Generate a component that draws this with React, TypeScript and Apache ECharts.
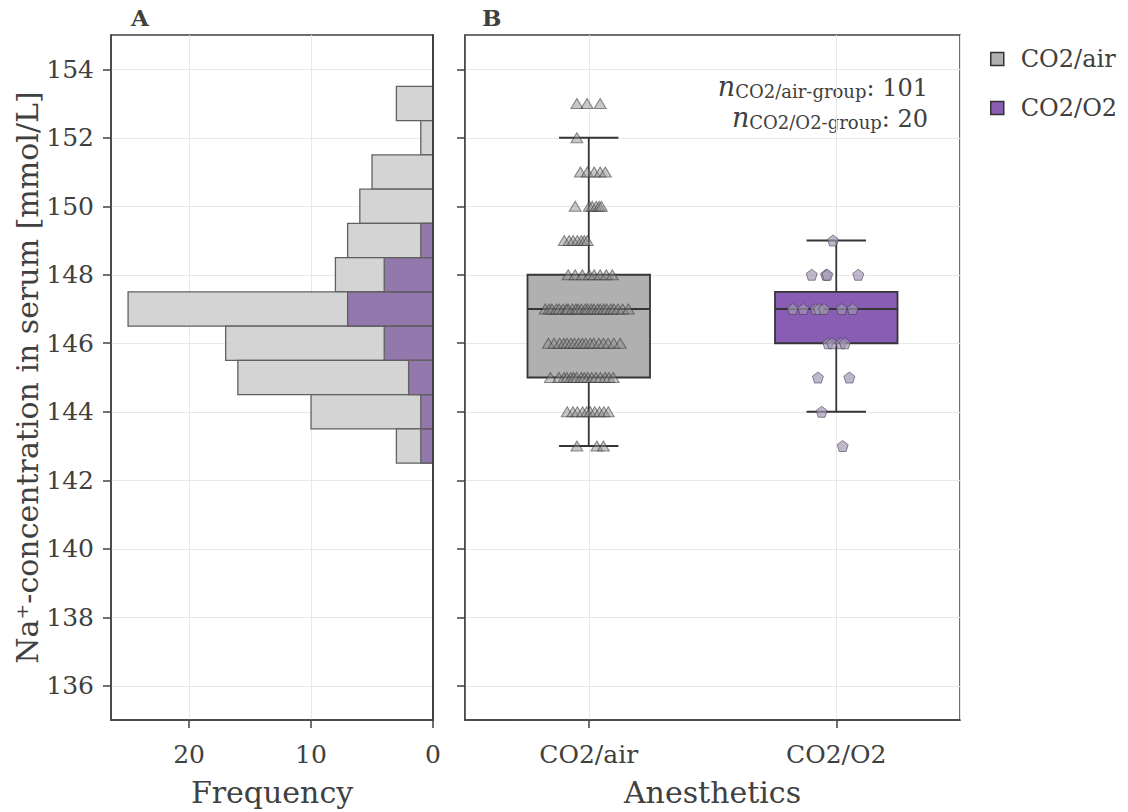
import React, { useEffect, useRef } from 'react';
import * as echarts from 'echarts';

// ---- data ----
const naLevels = [153, 152, 151, 150, 149, 148, 147, 146, 145, 144, 143];
const airCounts = [3, 1, 5, 6, 7, 8, 25, 17, 16, 10, 3];
const o2Counts = [0, 0, 0, 0, 1, 4, 7, 4, 2, 1, 1];

const categories = ['CO2/air', 'CO2/O2'];
// [whisker low, Q1, median, Q3, whisker high]
const airBox = [143, 145, 147, 148, 152];
const o2Box = [144, 146, 147, 147.5, 149];

// horizontal jitter (fraction of category band) for each point, per level in naLevels
const airJitter: number[][] = [
  [-0.048, -0.007, 0.046],
  [-0.048],
  [-0.034, -0.006, 0.022, 0.046, 0.067],
  [-0.055, 0.002, 0.014, 0.03, 0.042, 0.051],
  [-0.099, -0.079, -0.063, -0.046, -0.03, -0.018, -0.006],
  [-0.083, -0.055, -0.026, 0.002, 0.022, 0.046, 0.071, 0.095],
  [-0.176, -0.16, -0.149, -0.131, -0.12, -0.104, -0.09, -0.083, -0.066, -0.052, -0.043, -0.03, -0.014, -0.004, 0.01, 0.021, 0.036, 0.047, 0.061, 0.072, 0.089, 0.101, 0.118, 0.137, 0.16],
  [-0.163, -0.14, -0.118, -0.101, -0.088, -0.072, -0.058, -0.041, -0.026, -0.012, 0.006, 0.02, 0.041, 0.059, 0.078, 0.101, 0.127],
  [-0.155, -0.121, -0.1, -0.088, -0.072, -0.061, -0.049, -0.03, -0.018, -0.004, 0.012, 0.029, 0.047, 0.066, 0.081, 0.099],
  [-0.087, -0.064, -0.046, -0.025, -0.008, 0.006, 0.024, 0.043, 0.061, 0.079],
  [-0.048, 0.033, 0.059],
];
const o2Jitter: number[][] = [
  [],
  [],
  [],
  [],
  [-0.013],
  [-0.099, -0.041, -0.036, 0.089],
  [-0.176, -0.133, -0.083, -0.07, -0.049, 0.022, 0.066],
  [-0.033, -0.017, 0.019, 0.035],
  [-0.074, 0.053],
  [-0.059],
  [0.026],
];

const yTickValues = [136, 138, 140, 142, 144, 146, 148, 150, 152, 154];
const xTickValues = [0, 10, 20];

// ---- styles ----
const FONT = "'DejaVu Serif', serif";
const TXT = '#404040';
const AXIS = '#404040';
const GRIDLINE = '#e8e8e8';
const airHistFill = 'rgba(205,205,205,0.85)';
const o2HistFill = 'rgba(125,90,160,0.75)';
const airBoxFill = '#b0b0b0';
const o2BoxFill = '#8a5db5';
const pentagon = 'path://M0,-1 L0.951,-0.309 L0.588,0.809 L-0.588,0.809 L-0.951,-0.309 Z';

function histData(counts: number[]) {
  return naLevels.map((v, i) => [v - 0.5, v + 0.5, counts[i]]);
}

function stripData(catIdx: number, jitter: number[][]) {
  const out: number[][] = [];
  naLevels.forEach((v, i) => {
    jitter[i].forEach((j) => out.push([catIdx + j, v]));
  });
  return out;
}

function histRender(fill: string) {
  return (params: any, api: any) => {
    const lo = api.value(0);
    const hi = api.value(1);
    const cnt = api.value(2);
    if (!cnt) return null;
    const p0 = api.coord([0, hi]);
    const p1 = api.coord([cnt, lo]);
    return {
      type: 'rect',
      shape: {
        x: Math.min(p0[0], p1[0]),
        y: p0[1],
        width: Math.abs(p1[0] - p0[0]),
        height: p1[1] - p0[1],
      },
      style: { fill, stroke: '#606060', lineWidth: 1.3 },
    };
  };
}

function boxRender(fill: string) {
  return (params: any, api: any) => {
    const idx = api.value(0);
    const lo = api.coord([idx, api.value(1)]);
    const q1 = api.coord([idx, api.value(2)]);
    const med = api.coord([idx, api.value(3)]);
    const q3 = api.coord([idx, api.value(4)]);
    const hi = api.coord([idx, api.value(5)]);
    const band = api.size([1, 0])[0];
    const bw = band * 0.495;
    const cw = band * 0.24;
    const x = lo[0];
    const ls = { stroke: '#353535', lineWidth: 1.8 };
    return {
      type: 'group',
      children: [
        { type: 'line', shape: { x1: x, y1: hi[1], x2: x, y2: q3[1] }, style: ls },
        { type: 'line', shape: { x1: x, y1: q1[1], x2: x, y2: lo[1] }, style: ls },
        { type: 'line', shape: { x1: x - cw / 2, y1: hi[1], x2: x + cw / 2, y2: hi[1] }, style: ls },
        { type: 'line', shape: { x1: x - cw / 2, y1: lo[1], x2: x + cw / 2, y2: lo[1] }, style: ls },
        {
          type: 'rect',
          shape: { x: x - bw / 2, y: q3[1], width: bw, height: q1[1] - q3[1] },
          style: { fill, stroke: '#353535', lineWidth: 1.8 },
        },
        { type: 'line', shape: { x1: x - bw / 2, y1: med[1], x2: x + bw / 2, y2: med[1] }, style: ls },
      ],
    };
  };
}

const yAxisCommon = {
  type: 'value',
  min: 135,
  max: 155,
  splitNumber: 10,
  axisLine: { show: true, onZero: false, lineStyle: { color: AXIS, width: 1.5 } },
  axisTick: { show: true, length: 8, customValues: yTickValues, lineStyle: { color: AXIS, width: 1.5 } },
  splitLine: { show: true, lineStyle: { color: GRIDLINE, width: 1 } },
};

const annRich = {
  n: { fontFamily: FONT, fontStyle: 'italic', fontSize: 27, lineHeight: 28, verticalAlign: 'bottom', fill: TXT },
  s: { fontFamily: FONT, fontSize: 18, lineHeight: 14, verticalAlign: 'bottom', fill: TXT },
  v: { fontFamily: FONT, fontSize: 24, lineHeight: 28, verticalAlign: 'bottom', fill: TXT },
};

export default function App() {
  const ref = useRef<HTMLDivElement>(null);
  useEffect(() => {
    if (!ref.current) return;
    const chart = echarts.init(ref.current, null, { renderer: 'svg' });
    const option: any = {
      animation: false,
      backgroundColor: '#ffffff',
      textStyle: { fontFamily: FONT, color: TXT },
      grid: [
        { left: 111, top: 35, width: 322, height: 685, show: true, borderColor: AXIS, borderWidth: 1.5, backgroundColor: 'transparent' },
        { left: 465, top: 35, width: 495, height: 685, show: true, borderColor: AXIS, borderWidth: 1.5, backgroundColor: 'transparent' },
      ],
      xAxis: [
        {
          type: 'value',
          gridIndex: 0,
          inverse: true,
          min: 0,
          max: 26.4,
          interval: 10,
          axisLine: { show: true, onZero: false, lineStyle: { color: AXIS, width: 1.5 } },
          axisTick: { show: true, length: 8, customValues: xTickValues, lineStyle: { color: AXIS, width: 1.5 } },
          axisLabel: { customValues: xTickValues, fontSize: 25, color: TXT, fontFamily: FONT, margin: 22 },
          splitLine: { show: true, lineStyle: { color: GRIDLINE, width: 1 } },
          name: 'Frequency',
          nameLocation: 'middle',
          nameGap: 57,
          nameTextStyle: { fontSize: 30, color: TXT, fontFamily: FONT },
        },
        {
          type: 'category',
          gridIndex: 1,
          data: categories,
          boundaryGap: true,
          axisLine: { show: true, onZero: false, lineStyle: { color: AXIS, width: 1.5 } },
          axisTick: { show: true, length: 8, alignWithLabel: true, lineStyle: { color: AXIS, width: 1.5 } },
          axisLabel: { fontSize: 25, color: TXT, fontFamily: FONT, margin: 22 },
          splitLine: { show: false },
          name: 'Anesthetics',
          nameLocation: 'middle',
          nameGap: 57,
          nameTextStyle: { fontSize: 30, color: TXT, fontFamily: FONT },
        },
        {
          type: 'value',
          gridIndex: 1,
          min: -0.5,
          max: 1.5,
          splitNumber: 2,
          axisLine: { show: false, onZero: false },
          axisTick: { show: false },
          axisLabel: { show: false },
          splitLine: { show: true, lineStyle: { color: GRIDLINE, width: 1 } },
        },
      ],
      yAxis: [
        {
          ...yAxisCommon,
          gridIndex: 0,
          axisLabel: { customValues: yTickValues, fontSize: 25, color: TXT, fontFamily: FONT, margin: 17 },
          name: 'Na\u207A-concentration in serum [mmol/L]',
          nameLocation: 'middle',
          nameGap: 69,
          nameTextStyle: { fontSize: 30, color: TXT, fontFamily: FONT },
        },
        {
          ...yAxisCommon,
          gridIndex: 1,
          axisLabel: { show: false },
        },
        {
          type: 'value',
          gridIndex: 0,
          position: 'right',
          min: 135,
          max: 155,
          z: 5,
          axisLine: { show: true, onZero: false, lineStyle: { color: AXIS, width: 2 } },
          axisTick: { show: false },
          axisLabel: { show: false },
          splitLine: { show: false },
        },
      ],
      legend: {
        orient: 'vertical',
        left: 990,
        top: 47,
        padding: 0,
        itemWidth: 13,
        itemHeight: 13,
        itemGap: 25,
        icon: 'rect',
        textStyle: { fontSize: 24, color: TXT, fontFamily: FONT, padding: [0, 0, 0, 12] },
        data: [
          { name: 'CO2/air', itemStyle: { color: airBoxFill, borderColor: '#333', borderWidth: 1.5 } },
          { name: 'CO2/O2', itemStyle: { color: o2BoxFill, borderColor: '#333', borderWidth: 1.5 } },
        ],
      },
      graphic: [
        { type: 'text', left: 131, top: 6, style: { text: 'A', font: `bold 23px ${FONT}`, fill: TXT } },
        { type: 'text', left: 482, top: 6, style: { text: 'B', font: `bold 23px ${FONT}`, fill: TXT } },
        {
          type: 'text',
          x: 928,
          y: 100,
          style: {
            text: '{n|n}{s|CO2/air-group}{v|: 101}',
            align: 'right',
            verticalAlign: 'bottom',
            fill: TXT,
            rich: annRich,
          },
        },
        {
          type: 'text',
          x: 928,
          y: 131,
          style: {
            text: '{n|n}{s|CO2/O2-group}{v|: 20}',
            align: 'right',
            verticalAlign: 'bottom',
            fill: TXT,
            rich: annRich,
          },
        },
      ],
      series: [
        {
          type: 'custom',
          name: 'hist CO2/air',
          coordinateSystem: 'cartesian2d',
          xAxisIndex: 0,
          yAxisIndex: 0,
          encode: { x: 2, y: [0, 1] },
          renderItem: histRender(airHistFill),
          data: histData(airCounts),
          z: 2,
        },
        {
          type: 'custom',
          name: 'hist CO2/O2',
          coordinateSystem: 'cartesian2d',
          xAxisIndex: 0,
          yAxisIndex: 0,
          encode: { x: 2, y: [0, 1] },
          renderItem: histRender(o2HistFill),
          data: histData(o2Counts),
          z: 3,
        },
        {
          type: 'custom',
          name: 'CO2/air',
          coordinateSystem: 'cartesian2d',
          xAxisIndex: 1,
          yAxisIndex: 1,
          itemStyle: { color: airBoxFill },
          encode: { x: 0, y: [1, 2, 3, 4, 5] },
          renderItem: boxRender(airBoxFill),
          data: [[0, ...airBox]],
          z: 2,
        },
        {
          type: 'custom',
          name: 'CO2/O2',
          coordinateSystem: 'cartesian2d',
          xAxisIndex: 1,
          yAxisIndex: 1,
          itemStyle: { color: o2BoxFill },
          encode: { x: 0, y: [1, 2, 3, 4, 5] },
          renderItem: boxRender(o2BoxFill),
          data: [[1, ...o2Box]],
          z: 2,
        },
        {
          type: 'scatter',
          name: 'points CO2/air',
          xAxisIndex: 2,
          yAxisIndex: 1,
          symbol: 'triangle',
          symbolSize: [12, 10],
          itemStyle: { color: 'rgba(140,140,140,0.6)', borderColor: 'rgba(55,55,55,0.7)', borderWidth: 1 },
          data: stripData(0, airJitter),
          z: 4,
        },
        {
          type: 'scatter',
          name: 'points CO2/O2',
          xAxisIndex: 2,
          yAxisIndex: 1,
          symbol: pentagon,
          symbolSize: 11,
          itemStyle: { color: 'rgba(160,150,178,0.85)', borderColor: 'rgba(70,60,85,0.75)', borderWidth: 1 },
          data: stripData(1, o2Jitter),
          z: 4,
        },
      ],
    };
    chart.setOption(option);
    return () => chart.dispose();
  }, []);
  return <div ref={ref} style={{ position: 'fixed', left: 0, top: 0, width: 1128, height: 812 }} />;
}
